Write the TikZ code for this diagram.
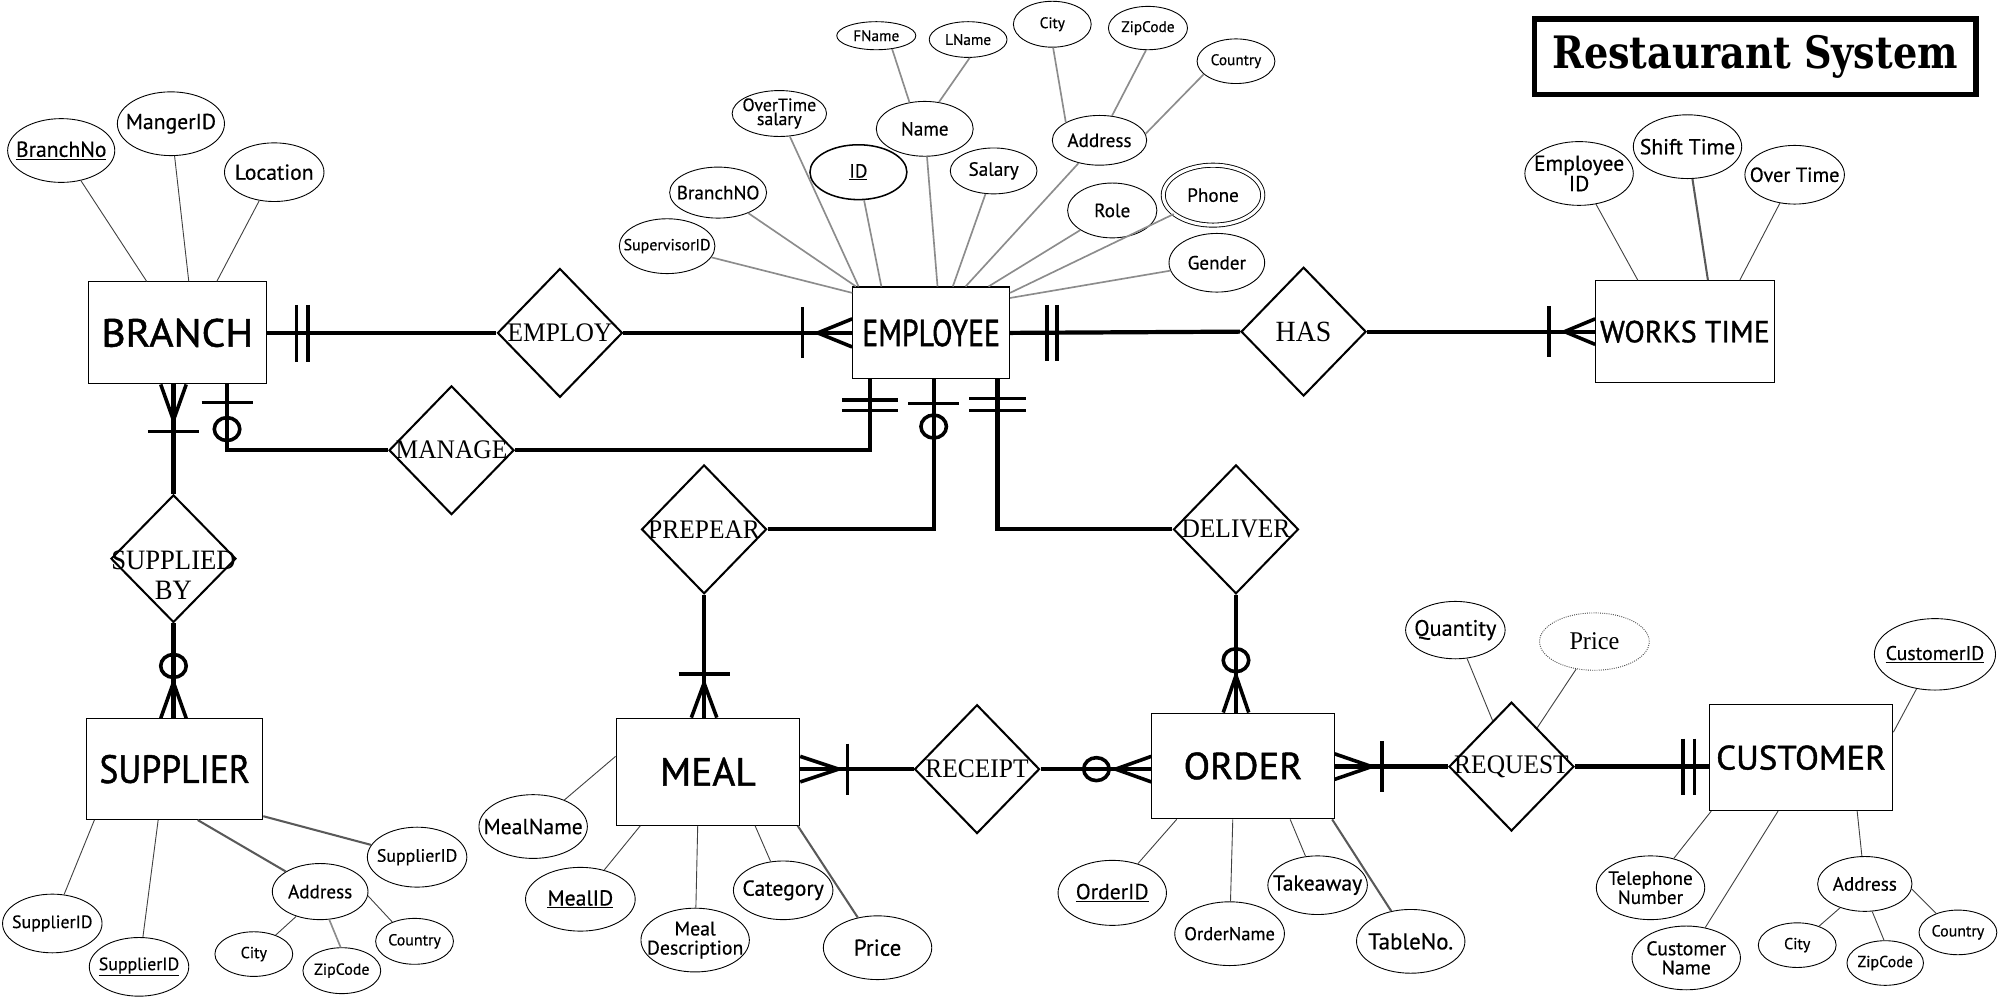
\documentclass[tikz,border=0pt]{standalone}
\usepackage{fontspec}
\usepackage{graphicx}
\usetikzlibrary{shapes.geometric}
\setmainfont{Liberation Serif}
\newfontfamily\attrfont[FakeBold=0.4]{PT Sans}
\newfontfamily\entfont[FakeBold=1.2]{PT Sans}
\newfontfamily\relfont[FakeStretch=0.95]{Liberation Serif}
\newfontfamily\titlefont{DejaVu Serif}

\begin{document}
\begin{tikzpicture}[x=1pt, y=-1pt,
    entity/.style={draw, line width=0.8pt, inner sep=0pt, font=\entfont},
    rel/.style={diamond, draw, line width=1.6pt, minimum width=98, minimum height=101,
        inner sep=-40pt, align=center, font=\relfont\fontsize{21}{21}\selectfont},
    attr/.style={ellipse, draw, line width=0.7pt, inner sep=-40pt, align=center},
    fs/.style={font=\attrfont\fontsize{#1}{#1}\selectfont},
    conn/.style={line width=3.3pt},
    tick/.style={line width=2.8pt},
    aline/.style={line width=0.7pt, black!75},
    gline/.style={line width=1.3pt, black!45},
    hline/.style={line width=1.6pt, black!65}]

    \fill[white] (0,0) rectangle (1568,784);
    \useasboundingbox (0,0) rectangle (1568,784);

    % Title.
    \node[draw, line width=4.5pt, minimum width=346, minimum height=59, inner sep=0pt,
        font=\titlefont\bfseries\fontsize{28}{28}\selectfont] (title) at (1376,44.5)
        {\resizebox{318pt}{26pt}{Restaurant System}};

    % Entities.
    \node[entity, minimum width=140, minimum height=80] (branch) at (139,261) {\resizebox{119pt}{22pt}{BRANCH}};
    \node[entity, minimum width=123, minimum height=72] (employee) at (730,261) {\resizebox{108pt}{21pt}{EMPLOYEE}};
    \node[entity, minimum width=140, minimum height=80] (works) at (1321,260) {\resizebox{133pt}{17pt}{WORKS TIME}};
    \node[entity, minimum width=138, minimum height=79] (supplier) at (137,603) {\resizebox{118pt}{22pt}{SUPPLIER}};
    \node[entity, minimum width=144, minimum height=84] (meal) at (555,605) {\resizebox{75pt}{22pt}{MEAL}};
    \node[entity, minimum width=143, minimum height=83] (order) at (974.5,600.5) {\resizebox{93pt}{21pt}{ORDER}};
    \node[entity, minimum width=144, minimum height=83] (customer) at (1412,594) {\resizebox{133pt}{19pt}{CUSTOMER}};

    % Relationships.
    \node[rel] (employ) at (439,261) {EMPLOY};
    \node[rel] (manage) at (354,353) {MANAGE};
    \node[rel, font=\relfont\fontsize{23}{23}\selectfont] (has) at (1022,260) {HAS};
    \node[rel, minimum height=100, label={[yshift=-13pt, align=center,
        font=\relfont\fontsize{22}{23}\selectfont]center:SUPPLIED\\BY}] (supby) at (136,438) {};
    \node[rel] (prepear) at (552,415) {PREPEAR};
    \node[rel] (deliver) at (969,415) {DELIVER};
    \node[rel] (receipt) at (766,603) {RECEIPT};
    \node[rel] (request) at (1185,601) {REQUEST};

    % Attributes of BRANCH.
    \node[attr, fs=17, minimum width=84, minimum height=50] (bNo) at (48,118) {\underline{BranchNo}};
    \node[attr, fs=17, minimum width=84, minimum height=50] (bMgr) at (134,97) {MangerID};
    \node[attr, fs=17, minimum width=78, minimum height=46] (bLoc) at (215,135) {Location};

    % Attributes of EMPLOYEE.
    \node[attr, fs=12, minimum width=62, minimum height=22] (eFName) at (687,28) {FName};
    \node[attr, fs=12, minimum width=61, minimum height=28] (eLName) at (759,31) {LName};
    \node[attr, fs=12, minimum width=61, minimum height=36] (eCity) at (825,19) {City};
    \node[attr, fs=12, minimum width=62, minimum height=34] (eZip) at (900,22) {ZipCode};
    \node[attr, fs=12, minimum width=61, minimum height=35] (eCountry) at (969,48) {Country};
    \node[attr, font=\attrfont\fontsize{14}{11}\selectfont, minimum width=74, minimum height=36] (eOT) at (611,89) {OverTime\\salary};
    \node[attr, fs=15, minimum width=76, minimum height=43] (eName) at (725,101) {Name};
    \node[attr, fs=15, minimum width=74, minimum height=39] (eAddr) at (862,110) {Address};
    \node[attr, fs=15, line width=1.2pt, minimum width=76, minimum height=43] (eID) at (673,135) {\underline{ID}};
    \node[attr, fs=15, minimum width=68, minimum height=36] (eSal) at (779,134) {Salary};
    \node[attr, fs=15, minimum width=76, minimum height=40] (eBNO) at (563,151) {BranchNO};
    \node[attr, fs=15, minimum width=70, minimum height=43] (eRole) at (872,165) {Role};
    \node[attr, fs=15, double, double distance=2.5pt, minimum width=78, minimum height=47] (ePhone) at (951,153) {Phone};
    \node[attr, fs=12.5, minimum width=75, minimum height=43] (eSup) at (523,193) {SupervisorID};
    \node[attr, fs=15, minimum width=75, minimum height=46] (eGen) at (954,206) {Gender};

    % Attributes of WORKS TIME.
    \node[attr, font=\attrfont\fontsize{17}{16}\selectfont, minimum width=85, minimum height=50] (wEmp) at (1238,136) {Employee\\ID};
    \node[attr, fs=17, minimum width=85, minimum height=50] (wShift) at (1323,115) {Shift Time};
    \node[attr, fs=16, minimum width=78, minimum height=46] (wOver) at (1407,137) {Over Time};

    % Attributes of SUPPLIER.
    \node[attr, fs=14, minimum width=78, minimum height=47] (sIDr) at (327,672) {SupplierID};
    \node[attr, fs=15, minimum width=75, minimum height=44] (sAddr) at (251,699) {Address};
    \node[attr, fs=14, minimum width=78, minimum height=46] (sIDl) at (41,724) {SupplierID};
    \node[attr, fs=14, minimum width=78, minimum height=46] (sIDu) at (109,758) {\underline{SupplierID}};
    \node[attr, fs=12.5, minimum width=61, minimum height=35] (sCity) at (199,748) {City};
    \node[attr, fs=12.5, minimum width=61, minimum height=36] (sZip) at (268,761) {ZipCode};
    \node[attr, fs=12.5, minimum width=61, minimum height=36] (sCountry) at (325,738) {Country};

    % Attributes of MEAL.
    \node[attr, fs=17, minimum width=85, minimum height=50] (mName) at (418,648) {MealName};
    \node[attr, fs=17, minimum width=86, minimum height=50] (mID) at (455,705) {\underline{MealID}};
    \node[attr, font=\attrfont\fontsize{15.5}{15}\selectfont, minimum width=85, minimum height=50] (mDesc) at (545,737) {Meal\\Description};
    \node[attr, fs=17, minimum width=78, minimum height=46] (mCat) at (614,698) {Category};
    \node[attr, fs=18, minimum width=85, minimum height=50] (mPrice) at (688,743) {Price};

    % Attributes of ORDER.
    \node[attr, fs=17, minimum width=85, minimum height=51] (oID) at (872,700) {\underline{OrderID}};
    \node[attr, fs=14.5, minimum width=86, minimum height=50] (oName) at (964,732) {OrderName};
    \node[attr, fs=17, minimum width=78, minimum height=46] (oTake) at (1033,694) {Takeaway};
    \node[attr, fs=18, minimum width=85, minimum height=50] (oTable) at (1106,738) {TableNo.};

    % Attributes of REQUEST.
    \node[attr, fs=17.5, minimum width=78, minimum height=45] (rQty) at (1141,494) {Quantity};
    \node[attr, densely dotted, draw=black!75, font=\relfont\fontsize{20}{20}\selectfont, minimum width=86, minimum height=45] (rPrice) at (1250,503) {Price};

    % Attributes of CUSTOMER.
    \node[attr, fs=15.5, minimum width=95, minimum height=56] (cID) at (1517,513) {\underline{CustomerID}};
    \node[attr, font=\attrfont\fontsize{15}{15}\selectfont, minimum width=85, minimum height=50] (cTel) at (1294,696) {Telephone\\Number};
    \node[attr, font=\attrfont\fontsize{15.5}{15}\selectfont, minimum width=85, minimum height=50] (cName) at (1322,751) {Customer\\Name};
    \node[attr, fs=15, minimum width=74, minimum height=43] (cAddr) at (1462,693) {Address};
    \node[attr, fs=12.5, minimum width=61, minimum height=35] (cCity) at (1409,741) {City};
    \node[attr, fs=12.5, minimum width=60, minimum height=35] (cZip) at (1478,755) {ZipCode};
    \node[attr, fs=12.5, minimum width=61, minimum height=35] (cCountry) at (1535,731) {Country};

    % Attribute lines.
    \draw[aline] (bNo) -- ([xshift=-24pt]branch.north);
    \draw[aline] (bMgr) -- ([xshift=9pt]branch.north);
    \draw[aline] (bLoc) -- ([xshift=31pt]branch.north);

    \draw[gline] (eSup) -- ([yshift=-5pt]employee.north west);
    \draw[gline] (eBNO) -- ([xshift=3pt]employee.north west);
    \draw[gline] (eOT) -- ([xshift=5pt]employee.north west);
    \draw[gline] (eID) -- ([xshift=-39pt]employee.north);
    \draw[gline] (eName) -- ([xshift=5pt]employee.north);
    \draw[gline] (eSal) -- ([xshift=17pt]employee.north);
    \draw[gline] (eAddr) -- ([xshift=27pt]employee.north);
    \draw[gline] (eRole) -- ([xshift=45pt]employee.north);
    \draw[gline] (ePhone) -- ([yshift=-5pt]employee.north east);
    \draw[gline] (eGen) -- ([yshift=-9pt]employee.north east);
    \draw[gline] (eFName.-40) -- (eName.120);
    \draw[gline] (eLName.-85) -- (eName.62);
    \draw[gline] (eCity.-88) -- (eAddr.152);
    \draw[gline] (eZip.-95) -- (eAddr.63);
    \draw[gline] (eCountry.-158) -- (eAddr.8);

    \draw[aline] (wEmp) -- ([xshift=-37pt]works.north);
    \draw[hline] (wShift) -- ([xshift=18pt]works.north);
    \draw[aline] (wOver) -- ([xshift=43pt]works.north);

    \draw[hline] (sIDr) -- ([yshift=3pt]supplier.south east);
    \draw[hline] (sAddr) -- ([xshift=18pt]supplier.south);
    \draw[aline] (sIDl) -- ([xshift=-63pt]supplier.south);
    \draw[aline] (sIDu) -- ([xshift=-13pt]supplier.south);
    \draw[aline] (sAddr.-134) -- (sCity.41);
    \draw[gline] (sAddr.-72) -- (sZip.93);
    \draw[aline] (sAddr.-5) -- (sCountry.139);

    \draw[aline] (mName) -- ([yshift=12pt]meal.west);
    \draw[aline] (mID) -- ([xshift=-53pt]meal.south);
    \draw[aline] (mDesc) -- ([xshift=-8pt]meal.south);
    \draw[aline] (mCat) -- ([xshift=37pt]meal.south);
    \draw[hline] (mPrice) -- ([xshift=-2pt]meal.south east);

    \draw[aline] (oID) -- ([xshift=-52pt]order.south);
    \draw[aline] (oName) -- ([xshift=-8pt]order.south);
    \draw[aline] (oTake) -- ([xshift=37pt]order.south);
    \draw[hline] (oTable) -- ([xshift=-2pt]order.south east);

    \draw[aline] (rQty) -- (request);
    \draw[aline] (rPrice) -- (request);

    \draw[aline] (cID) -- ([yshift=20pt]customer.east);
    \draw[aline] (cTel) -- ([xshift=2pt]customer.south west);
    \draw[aline] (cName) -- ([xshift=-18pt]customer.south);
    \draw[aline] (cAddr) -- ([xshift=44pt]customer.south);
    \draw[aline] (cAddr.-136) -- (cCity.41);
    \draw[aline] (cAddr.-75) -- (cZip.93);
    \draw[aline] (cAddr.-6) -- (cCountry.139);

    % Relationship connectors.
    \draw[conn] (branch.east) -- (employ.west);
    \draw[conn] (employ.east) -- (employee.west);
    \draw[conn] (employee.east) -- (has.west);
    \draw[conn] (has.east) -- (works.west);
    \draw[conn] (manage.west) -| ([xshift=39pt]branch.south);
    \draw[conn] (manage.east) -| ([xshift=-48pt]employee.south);
    \draw[conn] (prepear.east) -| ([xshift=2pt]employee.south);
    \draw[conn] (deliver.west) -| ([xshift=52pt]employee.south);
    \draw[conn] (supby.north |- branch.south) -- (supby.north);
    \draw[conn] (supby.south) -- (supby.south |- supplier.north);
    \draw[conn] (prepear.south) -- (prepear.south |- meal.north);
    \draw[conn] (deliver.south) -- (deliver.south |- order.north);
    \draw[conn] (receipt.west -| meal.east) -- (receipt.west);
    \draw[conn] (receipt.east) -- (receipt.east -| order.west);
    \draw[conn] (request.west -| order.east) -- (request.west);
    \draw[conn] (request.east) -- (request.east -| customer.west);

    % Cardinality marks.
    \draw[tick] (branch.east) ++(23,-22) -- ++(0,45);
    \draw[tick] (branch.east) ++(32,-22) -- ++(0,45);
    \draw[tick] (employee.west) ++(0,-11) -- ++(-27,11) -- ++(27,11);
    \draw[tick] (employee.west) ++(-39,-20) -- ++(0,40);
    \draw[tick] (employee.east) ++(29,-22) -- ++(0,44);
    \draw[tick] (employee.east) ++(37,-22) -- ++(0,44);
    \draw[tick] (works.west) ++(0,-10) -- ++(-24,10) -- ++(24,10);
    \draw[tick] (works.west) ++(-36,-20) -- ++(0,40);

    \draw[tick] ([xshift=39pt]branch.south) ++(-20,14) -- ++(40,0);
    \draw[tick] ([xshift=39pt]branch.south) ++(0,35) circle [x radius=10, y radius=9];
    \draw[tick] ([xshift=-48pt]employee.south) ++(-22,16) -- ++(44,0);
    \draw[tick] ([xshift=-48pt]employee.south) ++(-22,24.5) -- ++(44,0);
    \draw[tick] ([xshift=2pt]employee.south) ++(-20,19) -- ++(40,0);
    \draw[tick] ([xshift=2pt]employee.south) ++(0,37) circle [x radius=10, y radius=9];
    \draw[tick] ([xshift=52pt]employee.south) ++(-22,15) -- ++(44,0);
    \draw[tick] ([xshift=52pt]employee.south) ++(-22,24.5) -- ++(44,0);

    \draw[tick] (supby.north |- branch.south) ++(-10,0) -- ++(10,28) -- ++(10,-28);
    \draw[tick] (supby.north |- branch.south) ++(-20,37) -- ++(40,0);
    \draw[tick] (supby.south |- supplier.north) ++(-10,0) -- ++(10,-28) -- ++(10,28);
    \draw[tick] (supby.south |- supplier.north) ++(0,-41) circle [x radius=10, y radius=9];
    \draw[tick] (prepear.south |- meal.north) ++(-10,0) -- ++(10,-27) -- ++(10,27);
    \draw[tick] (prepear.south |- meal.north) ++(-20,-34) -- ++(40,0);
    \draw[tick] (deliver.south |- order.north) ++(-10,0) -- ++(10,-29) -- ++(10,29);
    \draw[tick] (deliver.south |- order.north) ++(0,-41) circle [x radius=10, y radius=9];

    \draw[tick] (receipt.west -| meal.east) ++(0,-10) -- ++(30,10) -- ++(-30,10);
    \draw[tick] (receipt.west -| meal.east) ++(37,-20) -- ++(0,40);
    \draw[tick] (receipt.east -| order.west) ++(0,-10) -- ++(-28,10) -- ++(28,10);
    \draw[tick] (receipt.east -| order.west) ++(-43,0) circle [x radius=10, y radius=9];
    \draw[tick] (request.west -| order.east) ++(0,-10) -- ++(29,10) -- ++(-29,10);
    \draw[tick] (request.west -| order.east) ++(37,-20) -- ++(0,40);
    \draw[tick] (request.east -| customer.west) ++(-20,-22) -- ++(0,44);
    \draw[tick] (request.east -| customer.west) ++(-11,-22) -- ++(0,44);

\end{tikzpicture}
\end{document}
